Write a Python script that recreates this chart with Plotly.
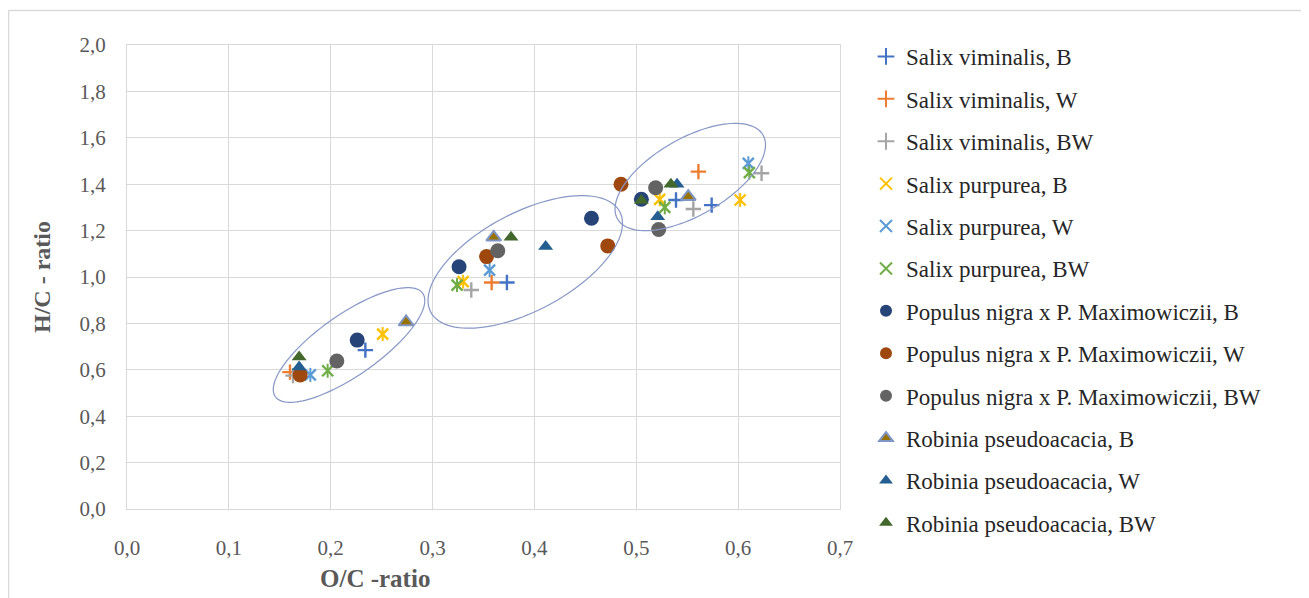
import numpy as np
import plotly.graph_objects as go

# ---------------- data ----------------
series_names = [
    "Salix viminalis, B", "Salix viminalis, W", "Salix viminalis, BW",
    "Salix purpurea, B", "Salix purpurea, W", "Salix purpurea, BW",
    "Populus nigra x P. Maximowiczii, B", "Populus nigra x P. Maximowiczii, W",
    "Populus nigra x P. Maximowiczii, BW",
    "Robinia pseudoacacia, B", "Robinia pseudoacacia, W", "Robinia pseudoacacia, BW",
]

sv_b_oc = [0.234, 0.373, 0.539, 0.574]
sv_b_hc = [0.685, 0.976, 1.332, 1.310]
sv_w_oc = [0.160, 0.358, 0.561]
sv_w_hc = [0.590, 0.976, 1.454]
sv_bw_oc = [0.163, 0.338, 0.556, 0.623]
sv_bw_hc = [0.575, 0.944, 1.293, 1.447]

sp_b_oc = [0.251, 0.330, 0.523, 0.602]
sp_b_hc = [0.754, 0.980, 1.335, 1.332]
sp_w_oc = [0.180, 0.356, 0.610]
sp_w_hc = [0.578, 1.030, 1.490]
sp_bw_oc = [0.197, 0.324, 0.528, 0.611]
sp_bw_hc = [0.596, 0.965, 1.300, 1.450]

pn_b_oc = [0.226, 0.326, 0.456, 0.505]
pn_b_hc = [0.728, 1.044, 1.253, 1.335]
pn_w_oc = [0.170, 0.353, 0.472, 0.485]
pn_w_hc = [0.578, 1.088, 1.134, 1.400]
pn_bw_oc = [0.206, 0.364, 0.519, 0.522]
pn_bw_hc = [0.638, 1.113, 1.385, 1.205]

rp_b_oc = [0.274, 0.360, 0.551]
rp_b_hc = [0.806, 1.171, 1.346]
rp_w_oc = [0.169, 0.411, 0.521, 0.540]
rp_w_hc = [0.612, 1.131, 1.260, 1.400]
rp_bw_oc = [0.169, 0.377, 0.534, 0.505]
rp_bw_hc = [0.655, 1.171, 1.400, 1.330]

x_ticks = [0.0, 0.1, 0.2, 0.3, 0.4, 0.5, 0.6, 0.7]
y_ticks = [0.0, 0.2, 0.4, 0.6, 0.8, 1.0, 1.2, 1.4, 1.6, 1.8, 2.0]

# ellipse groups: center (O/C, H/C)
ell_cx = [0.218, 0.391, 0.553]
ell_cy = [0.707, 1.065, 1.431]

# ---------------- layout geometry (figure px; page has 8px body margin) ----------------
W, H = 1301, 590
ML, MR, MT, MB = 119, 469, 37, 89
PW, PH = W - ML - MR, H - MT - MB
XR, YR = [0, 0.7], [0, 2.0]
SX, SY = PW / (XR[1] - XR[0]), PH / (YR[1] - YR[0])
OFF = 8


def px_x(page_x):
    return (page_x - OFF - ML) / PW


def px_y(page_y):
    return (H - MB - (page_y - OFF)) / PH


ell_a = [90, 107, 84]      # px semi-major
ell_b = [30.5, 49, 38.5]   # px semi-minor
ell_ang = [35, 28, 30]     # deg

xs = [sv_b_oc, sv_w_oc, sv_bw_oc, sp_b_oc, sp_w_oc, sp_bw_oc,
      pn_b_oc, pn_w_oc, pn_bw_oc, rp_b_oc, rp_w_oc, rp_bw_oc]
ys = [sv_b_hc, sv_w_hc, sv_bw_hc, sp_b_hc, sp_w_hc, sp_bw_hc,
      pn_b_hc, pn_w_hc, pn_bw_hc, rp_b_hc, rp_w_hc, rp_bw_hc]

colors = ["#4472C4", "#ED7D31", "#A5A5A5", "#FFC000", "#5B9BD5", "#70AD47",
          "#264478", "#9E480E", "#636363", "#997300", "#255E91", "#43682B"]
line_cols = ["#4472C4", "#ED7D31", "#A5A5A5", "#FFC000", "#5B9BD5", "#70AD47",
             "#264478", "#9E480E", "#636363", "#7F95C4", "#255E91", "#43682B"]
symbols = ["cross-thin-open"] * 3 + ["x-thin-open"] * 3 + ["circle"] * 3 + ["triangle-up"] * 3
sizes = [11] * 3 + [11] * 3 + [15] * 3 + [13] * 3

FONT = "Liberation Serif"

fig = go.Figure()
for i, name in enumerate(series_names):
    open_sym = symbols[i].endswith("-open")
    fig.add_trace(go.Scatter(
        x=xs[i], y=ys[i], mode="markers", name=name, legendgroup=f"g{i}",
        marker=dict(symbol=symbols[i], size=sizes[i], color=colors[i],
                    line=dict(color=line_cols[i],
                              width=2.4 if open_sym else (2 if i == 9 else 0))),
    ))
    if symbols[i] == "x-thin-open":
        # Excel "star" marker: X plus a vertical stroke
        fig.add_trace(go.Scatter(
            x=xs[i], y=ys[i], mode="markers", showlegend=False, legendgroup=f"g{i}",
            hoverinfo="skip",
            marker=dict(symbol="line-ns-open", size=sizes[i] - 1, color=colors[i],
                        line=dict(color=colors[i], width=2)),
        ))

# ellipses
shapes = []
phi = np.linspace(0, 2 * np.pi, 121)
for cx, cy, a, b, ang in zip(ell_cx, ell_cy, ell_a, ell_b, ell_ang):
    t = np.deg2rad(ang)
    dx = a * np.cos(phi) * np.cos(t) - b * np.sin(phi) * np.sin(t)
    dy = a * np.cos(phi) * np.sin(t) + b * np.sin(phi) * np.cos(t)
    pxs = cx + dx / SX
    pys = cy + dy / SY
    path = "M " + " L ".join(f"{u:.5f},{v:.5f}" for u, v in zip(pxs, pys)) + " Z"
    shapes.append(dict(type="path", path=path, xref="x", yref="y",
                       line=dict(color="#8797C6", width=1.2), layer="above"))

# outer chart border
shapes.append(dict(type="rect", xref="paper", yref="paper",
                   x0=px_x(8.5), x1=px_x(1304.5), y0=px_y(605), y1=px_y(10.5),
                   line=dict(color="#D9D9D9", width=1.5), layer="below"))

annotations = [
    dict(text="<b>O/C -ratio</b>", xref="paper", yref="paper",
         x=px_x(375), y=px_y(578), xanchor="center", yanchor="middle", showarrow=False,
         font=dict(family=FONT, size=25, color="#595959")),
    dict(text="<b>H/C - ratio</b>", xref="paper", yref="paper", textangle=-90,
         x=px_x(42), y=px_y(277), xanchor="center", yanchor="middle", showarrow=False,
         font=dict(family=FONT, size=24, color="#595959")),
]

fig.update_layout(
    width=W, height=H,
    margin=dict(l=ML, r=MR, t=MT, b=MB),
    paper_bgcolor="white", plot_bgcolor="white",
    separators=", ",
    font=dict(family=FONT, color="#595959", size=21),
    showlegend=True,
    legend=dict(x=px_x(866), xanchor="left", y=px_y(35), yanchor="top",
                font=dict(family=FONT, size=23, color="#262626"),
                tracegroupgap=9.5, itemwidth=30, itemsizing="constant",
                maxheight=590, bgcolor="rgba(0,0,0,0)"),
    shapes=shapes,
    annotations=annotations,
    xaxis=dict(range=XR, tickvals=x_ticks, tickformat=".1f",
               showgrid=True, gridcolor="#D9D9D9", gridwidth=1,
               zeroline=False, showline=True, linecolor="#D9D9D9", mirror=True,
               ticks="", ticklabelstandoff=20,
               tickfont=dict(family=FONT, size=21, color="#595959")),
    yaxis=dict(range=YR, tickvals=y_ticks, tickformat=".1f",
               showgrid=True, gridcolor="#D9D9D9", gridwidth=1,
               zeroline=False, showline=True, linecolor="#D9D9D9", mirror=True,
               ticks="", ticklabelstandoff=16,
               tickfont=dict(family=FONT, size=21, color="#595959")),
)

fig.write_html("out.html")
